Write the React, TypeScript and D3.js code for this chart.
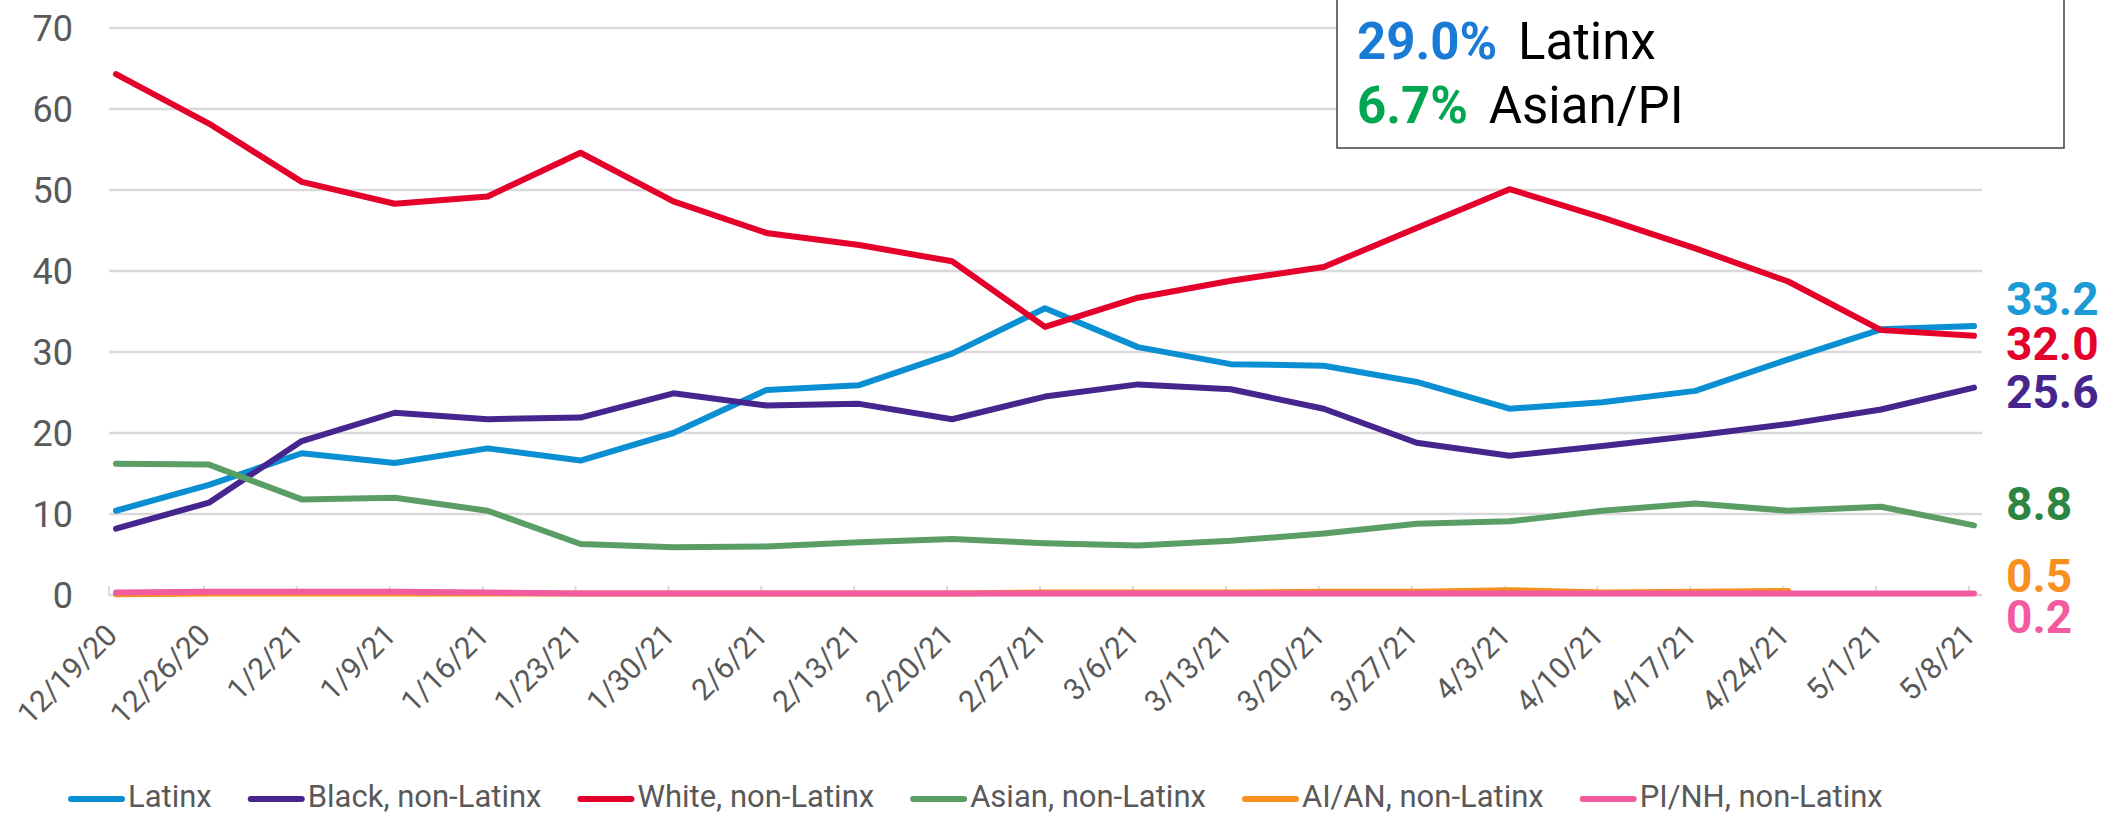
import * as d3 from 'd3'
import { useEffect, useRef } from 'react'

const dates = [
  '12/19/20', '12/26/20', '1/2/21', '1/9/21', '1/16/21', '1/23/21', '1/30/21',
  '2/6/21', '2/13/21', '2/20/21', '2/27/21', '3/6/21', '3/13/21', '3/20/21',
  '3/27/21', '4/3/21', '4/10/21', '4/17/21', '4/24/21', '5/1/21', '5/8/21',
]

const latinx = [10.4, 13.6, 17.5, 16.3, 18.1, 16.6, 20.0, 25.3, 25.9, 29.8, 35.4, 30.6, 28.5, 28.3, 26.3, 23.0, 23.8, 25.2, 29.1, 32.8, 33.2]
const black = [8.2, 11.4, 19.0, 22.5, 21.7, 21.9, 24.9, 23.4, 23.6, 21.7, 24.5, 26.0, 25.4, 23.0, 18.8, 17.2, 18.4, 19.7, 21.1, 22.9, 25.6]
const white = [64.3, 58.2, 51.0, 48.3, 49.2, 54.6, 48.6, 44.7, 43.2, 41.2, 33.1, 36.7, 38.8, 40.5, 45.3, 50.1, 46.6, 42.8, 38.7, 32.7, 32.0]
const asian = [16.2, 16.1, 11.8, 12.0, 10.4, 6.3, 5.9, 6.0, 6.5, 6.9, 6.4, 6.1, 6.7, 7.6, 8.8, 9.1, 10.4, 11.3, 10.4, 10.9, 8.6]
const aian = [0.1, 0.2, 0.2, 0.2, 0.2, 0.2, 0.2, 0.2, 0.2, 0.2, 0.3, 0.3, 0.3, 0.4, 0.4, 0.6, 0.3, 0.4, 0.5, null, null]
const pinh = [0.3, 0.4, 0.4, 0.4, 0.3, 0.2, 0.2, 0.2, 0.2, 0.2, 0.2, 0.2, 0.2, 0.2, 0.2, 0.2, 0.2, 0.2, 0.2, 0.2, 0.2]

const seriesNames = ['Latinx', 'Black, non-Latinx', 'White, non-Latinx', 'Asian, non-Latinx', 'AI/AN, non-Latinx', 'PI/NH, non-Latinx']
const seriesColors = ['#0b8fd3', '#46268e', '#e4002b', '#5a9e66', '#f7901e', '#f25b9f']
const labelColors = ['#1b9ad6', '#e4002b', '#46268e', '#2e8541', '#f7901e', '#f25b9f']

// end-of-line labels, in the order they are stacked on the right
const endLabels = ['33.2', '32.0', '25.6', '8.8', '0.5', '0.2']

const yTicks = [0, 10, 20, 30, 40, 50, 60, 70]

const boxLines = [
  { pct: '29.0%', name: 'Latinx', color: '#1a7bd6' },
  { pct: '6.7%', name: 'Asian/PI', color: '#00a650' },
]

const W = 2128
const H = 813

const App = () => {
  const ref = useRef<SVGSVGElement>(null)

  useEffect(() => {
    const svg = d3.select(ref.current)
    svg.selectAll('*').remove()

    const x = d3.scalePoint<string>().domain(dates).range([116, 1974])
    const y = d3.scaleLinear().domain([0, 70]).range([595, 28])

    // gridlines
    svg
      .append('g')
      .selectAll('line')
      .data(yTicks.filter((d) => d > 0))
      .join('line')
      .attr('x1', 109)
      .attr('x2', 1982)
      .attr('y1', (d) => y(d))
      .attr('y2', (d) => y(d))
      .attr('stroke', '#d9d9d9')
      .attr('stroke-width', 2.5)

    // y labels
    svg
      .append('g')
      .selectAll('text')
      .data(yTicks)
      .join('text')
      .attr('x', 73)
      .attr('y', (d) => y(d))
      .attr('dy', '0.36em')
      .attr('text-anchor', 'end')
      .attr('fill', '#595959')
      .style('font-family', 'Roboto')
      .style('font-size', '36px')
      .text((d) => d)

    // x axis
    svg
      .append('line')
      .attr('x1', 109)
      .attr('x2', 1982)
      .attr('y1', y(0))
      .attr('y2', y(0))
      .attr('stroke', '#d9d9d9')
      .attr('stroke-width', 2.5)

    svg
      .append('g')
      .selectAll('line')
      .data(dates)
      .join('line')
      .attr('x1', (d, i) => (i === 0 ? 109 : (x(d) as number) - 5))
      .attr('x2', (d, i) => (i === 0 ? 109 : (x(d) as number) - 5))
      .attr('y1', y(0) - 9)
      .attr('y2', y(0))
      .attr('stroke', '#d9d9d9')
      .attr('stroke-width', 2)

    svg
      .append('g')
      .selectAll('text')
      .data(dates)
      .join('text')
      .attr('transform', (d) => `translate(${(x(d) as number) + 3},${637}) rotate(-45)`)
      .attr('text-anchor', 'end')
      .attr('fill', '#595959')
      .style('font-family', 'Roboto')
      .style('font-size', '30px')
      .text((d) => d)

    // lines
    const all = [latinx, black, white, asian, aian, pinh]
    const line = d3
      .line<number | null>()
      .defined((d) => d !== null)
      .x((d, i) => x(dates[i]) as number)
      .y((d) => y(d as number))

    all.forEach((vals, k) => {
      svg
        .append('path')
        .datum(vals)
        .attr('d', line)
        .attr('fill', 'none')
        .attr('stroke', seriesColors[k])
        .attr('stroke-width', 6)
        .attr('stroke-linejoin', 'round')
        .attr('stroke-linecap', 'round')
    })

    // end labels
    const labelY = [315, 360, 408, 520, 592, 633]
    svg
      .append('g')
      .selectAll('text')
      .data(endLabels)
      .join('text')
      .attr('x', 2006)
      .attr('y', (d, i) => labelY[i])
      .attr('fill', (d, i) => labelColors[i])
      .style('font-family', 'Roboto')
      .style('font-weight', 'bold')
      .style('font-size', '46px')
      .text((d) => d)

    // legend
    const legend = svg.append('g')
    let lx = 68
    seriesNames.forEach((name, k) => {
      legend
        .append('line')
        .attr('x1', lx + 3)
        .attr('x2', lx + 54)
        .attr('y1', 799)
        .attr('y2', 799)
        .attr('stroke', seriesColors[k])
        .attr('stroke-width', 6)
        .attr('stroke-linecap', 'round')
      const t = legend
        .append('text')
        .attr('x', lx + 60)
        .attr('y', 807)
        .attr('fill', '#595959')
        .style('font-family', 'Roboto')
        .style('font-size', '31px')
        .text(name)
      const w = (t.node() as SVGTextElement).getComputedTextLength()
      lx += 60 + w + 36
    })

    // note box
    svg
      .append('rect')
      .attr('x', 1337)
      .attr('y', -20)
      .attr('width', 727)
      .attr('height', 168)
      .attr('fill', '#fff')
      .attr('stroke', '#404040')
      .attr('stroke-width', 1.5)

    boxLines.forEach((b, i) => {
      const t = svg
        .append('text')
        .attr('x', 1357)
        .attr('y', 59 + i * 64)
        .style('font-family', 'Roboto')
        .style('font-size', '51px')
      t.append('tspan').attr('fill', b.color).style('font-weight', 'bold').text(b.pct)
      t.append('tspan').attr('fill', '#000').attr('dx', 8).text(' ' + b.name)
    })
  }, [])

  return (
    <svg
      ref={ref}
      width={W}
      height={H}
      style={{ position: 'absolute', left: 0, top: 0, background: '#fff' }}
    />
  )
}

export default App
